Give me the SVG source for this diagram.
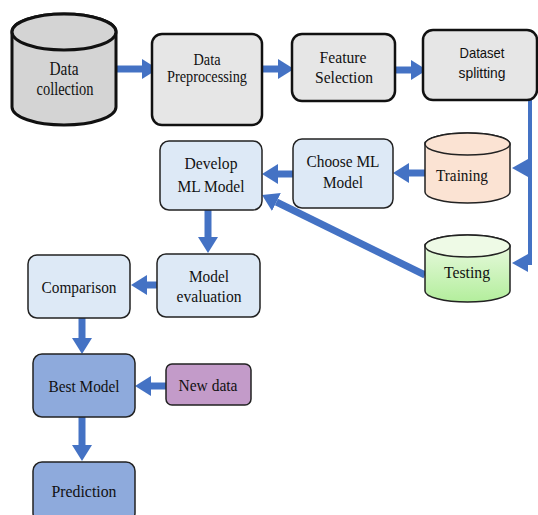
<svg xmlns="http://www.w3.org/2000/svg" width="538" height="515" viewBox="0 0 538 515">
<style>
.t{font-family:"Liberation Serif","Times New Roman",serif;font-size:17px;fill:#111;text-anchor:middle}
.s{font-family:"Liberation Sans",Arial,sans-serif;font-size:15px;fill:#111;text-anchor:middle}
.g{fill:#e6e6e6;stroke:#111;stroke-width:2.5}
.lb{fill:#dde9f6;stroke:#222;stroke-width:1.5}
.db{fill:#8eaadc;stroke:#222;stroke-width:1.5}
.c{stroke:#4472c4;fill:none}
.w{stroke-width:7}
.n{stroke-width:4}
.h{fill:#4472c4}
</style>
<defs>
<marker id="ah" viewBox="0 0 16 20" refX="0" refY="10" markerWidth="16" markerHeight="20" markerUnits="userSpaceOnUse" orient="auto">
<path d="M0,0 L16,10 L0,20 z" fill="#4472c4"/>
</marker>
<linearGradient id="gr" x1="0" y1="0" x2="0" y2="1">
<stop offset="0" stop-color="#f0fbe8"/>
<stop offset="1" stop-color="#b3ee9c"/>
</linearGradient>
</defs>
<g id="connectors">
<line class="c w" x1="116" y1="69" x2="142" y2="69" marker-end="url(#ah)"/>
<line class="c w" x1="262" y1="69" x2="278" y2="69" marker-end="url(#ah)"/>
<line class="c w" x1="395" y1="70" x2="411" y2="70" marker-end="url(#ah)"/>
<path class="c n" d="M530,100 V265 M530,168 H526 M530,263 H526"/>
<path class="h" d="M528,159 L512,168 L528,177 z"/>
<path class="h" d="M528,254 L512,263 L528,272 z"/>
<line class="c w" x1="425" y1="173" x2="409" y2="173" marker-end="url(#ah)"/>
<line class="c w" x1="293" y1="174" x2="278" y2="174" marker-end="url(#ah)"/>
<line class="c w" x1="425" y1="275" x2="276.4" y2="202" marker-end="url(#ah)"/>
<line class="c w" x1="208" y1="210" x2="208" y2="237" marker-end="url(#ah)"/>
<line class="c w" x1="157" y1="285" x2="147" y2="285" marker-end="url(#ah)"/>
<line class="c w" x1="82" y1="318" x2="82" y2="338" marker-end="url(#ah)"/>
<line class="c w" x1="166" y1="386" x2="151" y2="386" marker-end="url(#ah)"/>
<line class="c w" x1="82" y1="417" x2="82" y2="445" marker-end="url(#ah)"/>
</g>
<g id="data-collection">
<path d="M12,32 V107 A52,18 0 0 0 116,107 V32 A52,18 0 0 0 12,32 z" fill="#d4d4d4" stroke="#111" stroke-width="3"/>
<ellipse cx="64" cy="32" rx="52" ry="18" fill="#d4d4d4" stroke="#111" stroke-width="3"/>
<text class="t" x="64" y="75" style="font-size:19px" textLength="29" lengthAdjust="spacingAndGlyphs">Data</text>
<text class="t" x="65" y="95" style="font-size:19px" textLength="57" lengthAdjust="spacingAndGlyphs">collection</text>
</g>
<g id="data-preprocessing">
<rect class="g" x="152" y="34" width="110" height="91" rx="10"/>
<text class="t" x="207" y="65" style="font-size:16px" textLength="27" lengthAdjust="spacingAndGlyphs">Data</text>
<text class="t" x="207" y="82" style="font-size:16px" textLength="80" lengthAdjust="spacingAndGlyphs">Preprocessing</text>
</g>
<g id="feature-selection">
<rect class="g" x="292" y="34" width="103" height="67" rx="10"/>
<text class="t" x="343" y="63" textLength="47" lengthAdjust="spacingAndGlyphs">Feature</text>
<text class="t" x="344" y="83" textLength="58" lengthAdjust="spacingAndGlyphs">Selection</text>
</g>
<g id="dataset-splitting">
<rect class="g" x="423" y="30" width="114" height="70" rx="10"/>
<text class="s" x="482" y="58" textLength="45" lengthAdjust="spacingAndGlyphs">Dataset</text>
<text class="s" x="482" y="78" textLength="47" lengthAdjust="spacingAndGlyphs">splitting</text>
</g>
<g id="training">
<path d="M425,144 V192 A42.5,11 0 0 0 510,192 V144 A42.5,11 0 0 0 425,144 z" fill="#fbe3d3" stroke="#222" stroke-width="1.5"/>
<ellipse cx="467.5" cy="144" rx="42.5" ry="11" fill="#fbe3d3" stroke="#222" stroke-width="1.5"/>
<text class="t" x="462" y="181" textLength="52" lengthAdjust="spacingAndGlyphs">Training</text>
</g>
<g id="testing">
<path d="M425,246 V291 A42.5,11 0 0 0 510,291 V246 A42.5,11 0 0 0 425,246 z" fill="url(#gr)" stroke="#222" stroke-width="1.5"/>
<ellipse cx="467.5" cy="246" rx="42.5" ry="11" fill="#eefae6" stroke="#222" stroke-width="1.5"/>
<text class="t" x="467" y="278" textLength="46" lengthAdjust="spacingAndGlyphs">Testing</text>
</g>
<g id="choose-ml-model">
<rect class="lb" x="293" y="139" width="100" height="69" rx="9"/>
<text class="t" x="343" y="167" textLength="73" lengthAdjust="spacingAndGlyphs">Choose ML</text>
<text class="t" x="343" y="188" textLength="40" lengthAdjust="spacingAndGlyphs">Model</text>
</g>
<g id="develop-ml-model">
<rect class="lb" x="160" y="141" width="102" height="69" rx="9"/>
<text class="t" x="211" y="169" textLength="53" lengthAdjust="spacingAndGlyphs">Develop</text>
<text class="t" x="211" y="192" textLength="67" lengthAdjust="spacingAndGlyphs">ML Model</text>
</g>
<g id="model-evaluation">
<rect class="lb" x="157" y="254" width="103" height="63" rx="9"/>
<text class="t" x="209" y="282" textLength="40" lengthAdjust="spacingAndGlyphs">Model</text>
<text class="t" x="209" y="302" textLength="65" lengthAdjust="spacingAndGlyphs">evaluation</text>
</g>
<g id="comparison">
<rect class="lb" x="28" y="255" width="102" height="63" rx="9"/>
<text class="t" x="79" y="293" textLength="75" lengthAdjust="spacingAndGlyphs">Comparison</text>
</g>
<g id="best-model">
<rect class="db" x="33" y="354" width="102" height="63" rx="9"/>
<text class="t" x="84" y="392" textLength="71" lengthAdjust="spacingAndGlyphs">Best Model</text>
</g>
<g id="new-data">
<rect x="166" y="364" width="85" height="41" rx="6" fill="#c39bc9" stroke="#222" stroke-width="1.5"/>
<text class="t" x="208" y="391" textLength="59" lengthAdjust="spacingAndGlyphs">New data</text>
</g>
<g id="prediction">
<rect class="db" x="33" y="462" width="102" height="60" rx="9"/>
<text class="t" x="84" y="497" textLength="65" lengthAdjust="spacingAndGlyphs">Prediction</text>
</g>
</svg>
